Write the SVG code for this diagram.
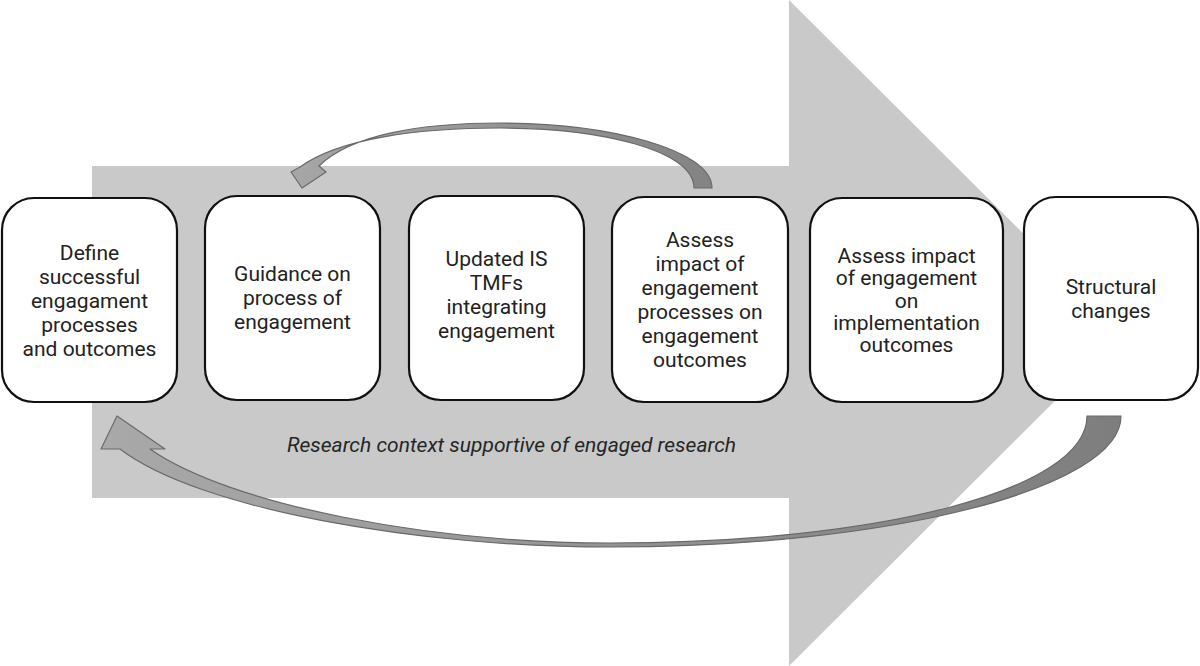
<svg xmlns="http://www.w3.org/2000/svg" width="1200" height="666" viewBox="0 0 1200 666">
<defs>
<linearGradient id="gTop" x1="712" y1="0" x2="290" y2="0" gradientUnits="userSpaceOnUse">
<stop offset="0" stop-color="#838383"/><stop offset="1" stop-color="#a6a6a6"/>
</linearGradient>
<linearGradient id="gBot" x1="1121" y1="0" x2="100" y2="0" gradientUnits="userSpaceOnUse">
<stop offset="0" stop-color="#7e7e7e"/><stop offset="1" stop-color="#a9a9a9"/>
</linearGradient>
<style>
.box{fill:#fff;stroke:#111;stroke-width:2.2}
.t{font-family:Roboto,"Liberation Sans",sans-serif;font-size:21px;fill:#222;text-anchor:middle}
.it{font-family:Roboto,"Liberation Sans",sans-serif;font-size:21px;font-style:italic;fill:#262626;text-anchor:middle}
.arc{stroke:#6a6a6a;stroke-width:1.2;stroke-linejoin:round}
</style>
</defs>
<rect width="1200" height="666" fill="#fff"/>
<g id="big-arrow">
<polygon points="92,166 789,166 789,0 1123,333 789,666 789,498 92,498" fill="#c9c9c9"/>
<text class="it" x="511.5" y="452">Research context supportive of engaged research</text>
</g>
<g id="connectors">
<path class="arc" fill="url(#gTop)" d="M712,188 C712,150 610,123 500,123 C420,123 350,135 319,166 L326,172 L302,188 L291,172 L300,167 C340,138 420,128 500,128 C600,128 694,150 694,188 Z"/>
<path class="arc" fill="url(#gBot)" d="M1121,416 C1121,488 892,547 610,547 C420,547 200,510 120,449 L101,449 L117,416 L165,449 L150,449 C230,505 430,543 610,543 C880,543 1087,490 1087,416 Z"/>
</g>
<g id="n1"><rect class="box" x="2" y="198" width="175" height="204" rx="32"/>
<text class="t" x="89.5" y="260">Define</text><text class="t" x="89.5" y="284">successful</text><text class="t" x="89.5" y="308">engagament</text><text class="t" x="89.5" y="332">processes</text><text class="t" x="89.5" y="356">and outcomes</text></g>
<g id="n2"><rect class="box" x="205" y="196" width="175" height="204" rx="32"/>
<text class="t" x="292.5" y="281">Guidance on</text><text class="t" x="292.5" y="305">process of</text><text class="t" x="292.5" y="329">engagement</text></g>
<g id="n3"><rect class="box" x="409" y="196" width="175" height="204" rx="32"/>
<text class="t" x="496.5" y="266">Updated IS</text><text class="t" x="496.5" y="290">TMFs</text><text class="t" x="496.5" y="314">integrating</text><text class="t" x="496.5" y="338">engagement</text></g>
<g id="n4"><rect class="box" x="612" y="197" width="176" height="205" rx="32"/>
<text class="t" x="700" y="247">Assess</text><text class="t" x="700" y="271">impact of</text><text class="t" x="700" y="295">engagement</text><text class="t" x="700" y="319">processes on</text><text class="t" x="700" y="343">engagement</text><text class="t" x="700" y="367">outcomes</text></g>
<g id="n5"><rect class="box" x="810" y="198" width="193" height="204" rx="32"/>
<text class="t" x="906.5" y="263">Assess impact</text><text class="t" x="906.5" y="285.3">of engagement</text><text class="t" x="906.5" y="307.6">on</text><text class="t" x="906.5" y="329.9">implementation</text><text class="t" x="906.5" y="352.2">outcomes</text></g>
<g id="n6"><rect class="box" x="1024" y="197" width="174" height="203" rx="32"/>
<text class="t" x="1111" y="294">Structural</text><text class="t" x="1111" y="318">changes</text></g>
</svg>
